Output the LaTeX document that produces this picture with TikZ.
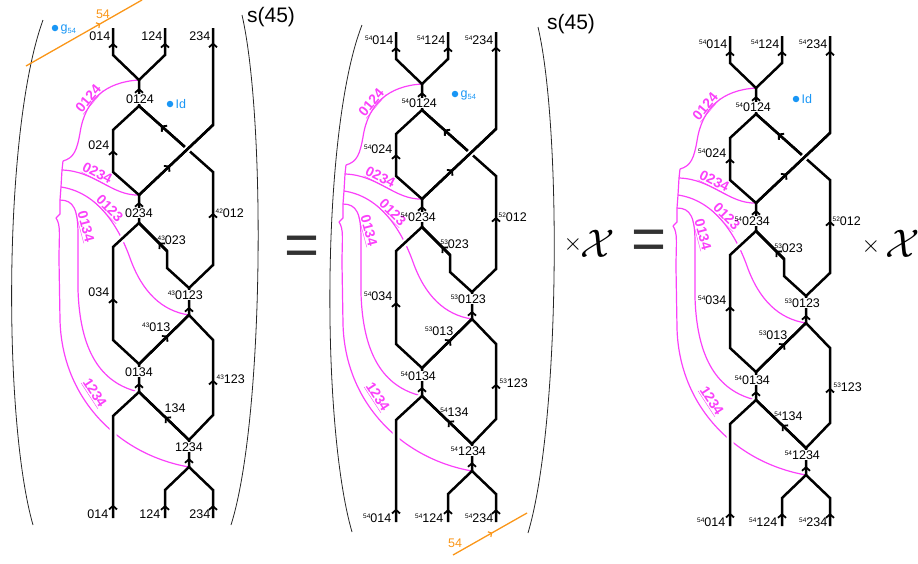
\documentclass[tikz,border=0pt]{standalone}
\usepackage{fontspec}
\setmainfont{Liberation Sans}
\usepackage{graphicx}
\usetikzlibrary{arrows.meta,decorations.markings,calc}

\definecolor{magbraid}{RGB}{250,64,250}
\definecolor{dotblue}{RGB}{25,150,245}
\definecolor{orangeline}{RGB}{250,150,25}
\definecolor{eqgray}{RGB}{50,50,50}

\newcommand{\supnum}[1]{\raisebox{4pt}{\fontsize{6.5}{6.5}\selectfont #1}}
\newcommand{\subnum}[1]{\raisebox{-2.5pt}{\fontsize{7.5}{7.5}\selectfont #1}}

\tikzset{
  strand/.style={line width=2.5pt},
  halo/.style={strand, preaction={draw=white, line width=7pt}},
  flow/.style={postaction={decorate}, decoration={markings,
    mark=at position #1 with {\arrow{Straight Barb[length=3.5pt,width=8pt,line width=1.8pt]}}}},
  oflow/.style={postaction={decorate}, decoration={markings,
    mark=at position #1 with {\arrow{Straight Barb[length=2.5pt,width=6pt,line width=1.2pt]}}}},
  magline/.style={draw=magbraid, line width=1.2pt},
  maglabel/.style={text=magbraid, font=\fontsize{14}{14}\selectfont\bfseries, inner sep=0.5pt},
  lbl/.style={font=\fontsize{12.5}{12.5}\selectfont, inner sep=0.5pt},
  vlbl/.style={lbl, fill=white},
  paren/.style={line width=0.8pt, black!85},
  oline/.style={draw=orangeline, line width=1.3pt},
  olbl/.style={text=orangeline, font=\fontsize{12.5}{12.5}\selectfont, inner sep=0.5pt},
  bluedot/.style={circle, fill=dotblue, inner sep=0pt, minimum size=6.5pt},
  bluelbl/.style={text=dotblue, font=\fontsize{12.5}{12.5}\selectfont, inner sep=0.5pt, anchor=west},
  eqsign/.style={text=eqgray, font=\fontsize{60}{60}\selectfont, inner sep=0pt},
  bigtxt/.style={font=\fontsize{21}{21}\selectfont, inner sep=0pt},
}

% one braid picture; #1 main superscript, #2 for 012, #3 for 023, 0123, 013, 123
\newcommand{\braidpanel}[3]{%
  \coordinate (t014) at (113,28);
  \coordinate (t124) at (165,28);
  \coordinate (t234) at (213,28);
  \coordinate (a014) at (113,55);
  \coordinate (a124) at (165,55);
  \coordinate (J1) at (139,80);
  \coordinate (V1) at (139,106);
  \coordinate (b024) at (113,130);
  \coordinate (c024) at (113,172);
  \coordinate (b234) at (213,125);
  \coordinate (d012) at (213,172);
  \coordinate (X) at (187.4,149.2);
  \coordinate (J2) at (139,195);
  \coordinate (V2) at (139,223);
  \coordinate (b034) at (113,247);
  \coordinate (c034) at (113,340);
  \coordinate (b023) at (167,251);
  \coordinate (c023) at (167,268);
  \coordinate (e012) at (213,265);
  \coordinate (J3) at (189,288);
  \coordinate (V3) at (189,315);
  \coordinate (b123) at (213,340);
  \coordinate (c123) at (213,415);
  \coordinate (J4) at (139,364);
  \coordinate (V4) at (139,392);
  \coordinate (b014) at (113,416);
  \coordinate (s014) at (113,518);
  \coordinate (J5) at (189,440);
  \coordinate (V5) at (189,467);
  \coordinate (b124) at (165,490);
  \coordinate (b234l) at (213,490);
  \coordinate (s124) at (165,518);
  \coordinate (s234) at (213,518);
  % magenta lines
  \coordinate (m1) at (63,161);
  \coordinate (m2) at (62,170);
  \coordinate (m3) at (61,187);
  \coordinate (m4) at (60,200);
  \coordinate (m5) at (60,214);
  \coordinate (m6) at (56,218);
  \draw[magline] (m1) -- (m2) -- (m3) -- (m4) -- (m5) -- (m6);
  \draw[magline] (m1) .. controls (74,158) and (77,150) .. (80,133)
    .. controls (85,100) and (105,82) .. (J1);
  \draw[magline] (m2) .. controls (95,171) and (112,196) .. (J2);
  \draw[magline] (m3) .. controls (95,192) and (117,222) .. (130,258)
    .. controls (142,292) and (162,311) .. (V3);
  \draw[magline] (m4) .. controls (74,200) and (78,210) .. (78,235) -- (78,290)
    .. controls (80,350) and (100,383) .. (V4);
  \draw[magline] (m6) .. controls (61,225) and (59,235) .. (59,260) -- (60,320)
    .. controls (62,400) and (120,455) .. (V5);
  \node[maglabel, rotate=50] (n0124) at (89,99) {\underline{0124}};
  \node[maglabel, rotate=-27] (n0234) at (97,174) {\underline{0234}};
  \node[maglabel, rotate=-45] (n0123) at (109,209) {\underline{0123}};
  \node[maglabel, rotate=-75] (n0134) at (85,227) {\underline{0134}};
  \node[maglabel, rotate=-57] (n1234) at (94,393) {\underline{1234}};
  % strands
  \draw[halo] (V2) -- (b034) -- (c034) -- (J4);
  \draw[halo] (V4) -- (b014) -- (s014);
  \draw[strand] (t014) -- (a014) -- (J1) -- (a124) -- (t124);
  \draw[strand] (J1) -- (V1) -- (b024) -- (c024) -- (J2) -- (V2);
  \draw[strand] (V1) -- ($(X)!3.5pt!(V1)$);
  \draw[strand] ($(X)!3.5pt!(d012)$) -- (d012) -- (e012) -- (J3);
  \draw[strand] (t234) -- (b234) -- (J2);
  \draw[strand] (V2) -- (b023) -- (c023) -- (J3) -- (V3) -- (J4) -- (V4) -- (J5) -- (V5);
  \draw[strand] (V3) -- (b123) -- (c123) -- (J5);
  \draw[strand] (s124) -- (b124) -- (V5) -- (b234l) -- (s234);
  % arrows
  \draw[strand, flow=0.45] (a014) -- (t014);
  \draw[strand, flow=0.45] (a124) -- (t124);
  \draw[strand, flow=0.85] (b234) -- (t234);
  \draw[strand, flow=0.69] (V1) -- (J1);
  \draw[strand, flow=0.52] (c024) -- (b024);
  \draw[strand, flow=0.52] ($(X)!3.5pt!(V1)$) -- (V1);
  \draw[strand, flow=0.42] (J2) -- (b234);
  \draw[strand, flow=0.75] (V2) -- (J2);
  \draw[strand, flow=0.29] (b023) -- (V2);
  \draw[strand, flow=0.56] (e012) -- (d012);
  \draw[strand, flow=0.3] (V3) -- (J3);
  \draw[strand, flow=0.45] (c034) -- (b034);
  \draw[strand, flow=0.58] (J4) -- (V3);
  \draw[strand, flow=0.47] (c123) -- (b123);
  \draw[strand, flow=0.32] (V4) -- (J4);
  \draw[strand, flow=0.48] (J5) -- (V4);
  \draw[strand, flow=0.13] (s014) -- (b014);
  \draw[strand, flow=0.33] (V5) -- (J5);
  \draw[strand, flow=0.46] (s124) -- (b124);
  \draw[strand, flow=0.46] (s234) -- (b234l);
  % labels
  \node[lbl, anchor=east] (l014t) at (111,36) {\supnum{#1}014};
  \node[lbl, anchor=east] (l124t) at (163,36) {\supnum{#1}124};
  \node[lbl, anchor=east] (l234t) at (211,36) {\supnum{#1}234};
  \node[vlbl] (l0124) at (140,99) {\llap{\supnum{#1}}0124};
  \node[lbl, anchor=east] (l024) at (110,145) {\supnum{#1}024};
  \node[vlbl] (l0234) at (139,213) {\llap{\supnum{#1}}0234};
  \node[lbl, anchor=west] (l012) at (215,213) {\supnum{#2}012};
  \node[lbl, anchor=west] (l023) at (157,240) {\supnum{#3}023};
  \node[lbl, anchor=east] (l034) at (110,292) {\supnum{#1}034};
  \node[vlbl] (l0123) at (189,295) {\llap{\supnum{#3}}0123};
  \node[lbl, anchor=east] (l013) at (171,327) {\supnum{#3}013};
  \node[vlbl] (l0134) at (139,372) {\llap{\supnum{#1}}0134};
  \node[lbl, anchor=west] (l123) at (216,379) {\supnum{#3}123};
  \node[lbl, anchor=west] (l134) at (164,408) {\llap{\supnum{#1}}134};
  \node[vlbl] (l1234) at (189,447) {\llap{\supnum{#1}}1234};
  \node[lbl, anchor=east] (l014b) at (109,514) {\supnum{#1}014};
  \node[lbl, anchor=east] (l124b) at (161,514) {\supnum{#1}124};
  \node[lbl, anchor=east] (l234b) at (211,514) {\supnum{#1}234};
}

\begin{document}
\begin{tikzpicture}[x=1pt, y=-1pt]
  \useasboundingbox (0,0) rectangle (918,563);

  \begin{scope}[shift={(0,0)}]
    \braidpanel{}{42}{43}
  \end{scope}

  \begin{scope}[shift={(283,4)}]
    \braidpanel{54}{52}{53}
  \end{scope}

  \begin{scope}[shift={(617,8)}]
    \braidpanel{54}{52}{53}
  \end{scope}

  % brackets and s(45)
  \draw[paren] (43,20) .. controls (3,130) and (3,420) .. (33,525);
  \draw[paren] (242,15) .. controls (266,120) and (264,420) .. (231,525);
  \draw[paren] (362,25) .. controls (321,130) and (321,425) .. (352,532);
  \draw[paren] (538,27) .. controls (562,130) and (560,425) .. (528,533);
  \node[bigtxt] (s1) at (271,17) {s(45)};
  \node[bigtxt] (s2) at (571,24) {s(45)};

  % orange lines
  \coordinate (o1a) at (26,66);
  \coordinate (o1b) at (142,0);
  \draw[oline, oflow=0.64] (o1a) -- (o1b);
  \node[olbl] (k1) at (103,14) {54};
  \coordinate (o2a) at (453,555);
  \coordinate (o2b) at (527,513);
  \draw[oline, oflow=0.53] (o2a) -- (o2b);
  \node[olbl] (k2) at (455,543) {54};

  % blue marks
  \node[bluedot] (d1) at (55,28) {};
  \node[bluelbl] (g1) at (60,29) {g\subnum{54}};
  \node[bluedot] (d2) at (170,104) {};
  \node[bluelbl] (i1) at (175,104) {Id};
  \node[bluedot] (d3) at (455,94) {};
  \node[bluelbl] (g2) at (460,95) {g\subnum{54}};
  \node[bluedot] (d4) at (796,99) {};
  \node[bluelbl] (i2) at (801,99) {Id};

  % equals and factors
  \node[eqsign] (eq1) at (302,250.5) {=};
  \node[eqsign] (eq2) at (649,245) {=};
  \node (x1) at (573,244) {\scalebox{2.4}{$\times$}};
  \node (chi1) at (598,244) {\scalebox{4}{$\mathcal{X}$}};
  \node (x2) at (871,246) {\scalebox{2.4}{$\times$}};
  \node (chi2) at (903,244) {\scalebox{4}{$\mathcal{X}$}};
\end{tikzpicture}
\end{document}
